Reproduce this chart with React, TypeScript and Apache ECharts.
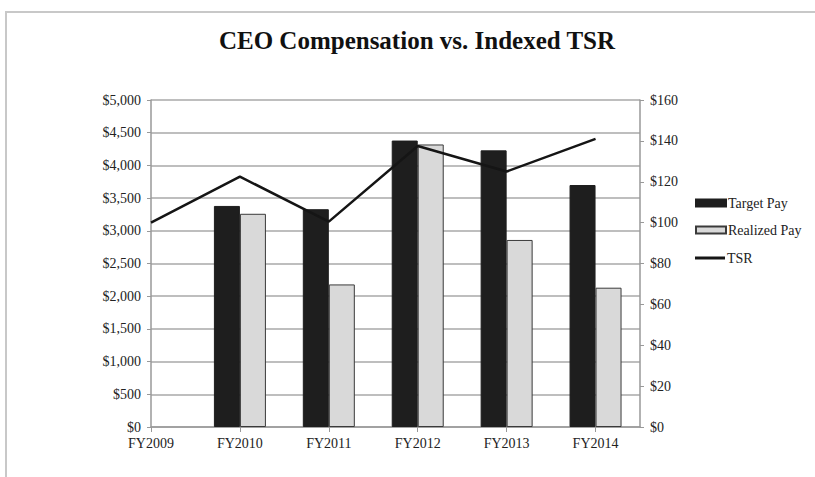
import React, { useEffect, useRef } from "react";
import * as echarts from "echarts";

const categories = ["FY2009", "FY2010", "FY2011", "FY2012", "FY2013", "FY2014"];
const targetPay: (number | null)[] = [null, 3380, 3330, 4380, 4230, 3700];
const realizedPay: (number | null)[] = [null, 3260, 2180, 4320, 2860, 2130];
const tsr: number[] = [100, 122.5, 100.5, 137.5, 125, 141];
const leftTicks = { min: 0, max: 5000, interval: 500 };
const rightTicks = { min: 0, max: 160, interval: 20 };

const FONT = "'Liberation Serif', 'Times New Roman', serif";

export default function App() {
  const ref = useRef<HTMLDivElement>(null);
  useEffect(() => {
    if (!ref.current) return;
    const chart = echarts.init(ref.current, undefined, { renderer: "svg" });
    // padded axis: each category followed by a half-step slot
    const axisData = categories.flatMap((c) => [c, c + " "]);
    const pad = (arr: (number | null)[]) =>
      arr.flatMap((v) => [v == null ? "-" : v, "-"]);
    const money = (v: number) => "$" + v.toLocaleString("en-US");
    const legendText = { fontFamily: FONT, fontSize: 14, color: "#222", padding: [0, 0, 0, -3] };
    chart.setOption({
      animation: false,
      backgroundColor: "#ffffff",
      title: {
        text: "CEO Compensation vs. Indexed TSR",
        left: 412,
        textAlign: "center",
        top: 23,
        textStyle: { fontFamily: FONT, fontWeight: "bold", fontSize: 25, color: "#111" },
      },
      graphic: [
        {
          type: "rect",
          shape: { x: 6, y: 12, width: 900, height: 600 },
          style: { fill: "none", stroke: "#c8c8c8", lineWidth: 2 },
          silent: true,
        },
      ],
      legend: [
        {
          orient: "vertical",
          left: 690,
          top: 191,
          itemWidth: 30,
          itemHeight: 7,
          itemGap: 13,
          textStyle: legendText,
          data: [
            { name: "Target Pay", icon: "rect" },
            { name: "Realized Pay", icon: "rect" },
          ],
        },
        {
          orient: "vertical",
          left: 690,
          top: 246,
          itemWidth: 30,
          itemHeight: 3,
          textStyle: legendText,
          data: [{ name: "TSR", icon: "rect" }],
        },
      ],
      grid: { left: 151, right: 175, top: 100, bottom: 50, containLabel: false },
      xAxis: {
        type: "category",
        data: axisData,
        boundaryGap: false,
        axisLine: { lineStyle: { color: "#999", width: 1.5 } },
        axisTick: { show: true, interval: 1, length: 5, lineStyle: { color: "#999" } },
        axisLabel: {
          interval: 1,
          fontFamily: FONT,
          fontSize: 14,
          color: "#222",
          margin: 9,
        },
        splitLine: { show: false },
      },
      yAxis: [
        {
          type: "value",
          ...leftTicks,
          axisLine: { show: true, lineStyle: { color: "#999", width: 1.5 } },
          axisTick: { show: true, length: 4, lineStyle: { color: "#999" } },
          axisLabel: { formatter: money, fontFamily: FONT, fontSize: 14, color: "#222", margin: 10 },
          splitLine: { show: true, lineStyle: { color: "#a8a8a8", width: 1.5 } },
        },
        {
          type: "value",
          ...rightTicks,
          position: "right",
          axisLine: { show: true, lineStyle: { color: "#999", width: 1.5 } },
          axisTick: { show: true, length: 4, lineStyle: { color: "#999" } },
          axisLabel: { formatter: money, fontFamily: FONT, fontSize: 14, color: "#222", margin: 10 },
          splitLine: { show: false },
        },
      ],
      series: [
        {
          name: "Target Pay",
          type: "bar",
          yAxisIndex: 0,
          data: pad(targetPay),
          barWidth: 26,
          barGap: "0%",
          itemStyle: { color: "#1e1e1e", borderColor: "#1e1e1e", borderWidth: 1 },
          z: 2,
        },
        {
          name: "Realized Pay",
          type: "bar",
          yAxisIndex: 0,
          data: pad(realizedPay),
          barWidth: 26,
          barGap: "0%",
          itemStyle: { color: "#d9d9d9", borderColor: "#3a3a3a", borderWidth: 1 },
          z: 2,
        },
        {
          name: "TSR",
          type: "line",
          yAxisIndex: 1,
          data: pad(tsr),
          connectNulls: true,
          symbol: "none",
          showSymbol: false,
          lineStyle: { color: "#151515", width: 2.5 },
          itemStyle: { color: "#151515" },
          z: 5,
        },
      ],
    });
    return () => chart.dispose();
  }, []);
  return (
    <div
      ref={ref}
      style={{ position: "fixed", left: 0, top: 0, width: 815, height: 477 }}
    />
  );
}
